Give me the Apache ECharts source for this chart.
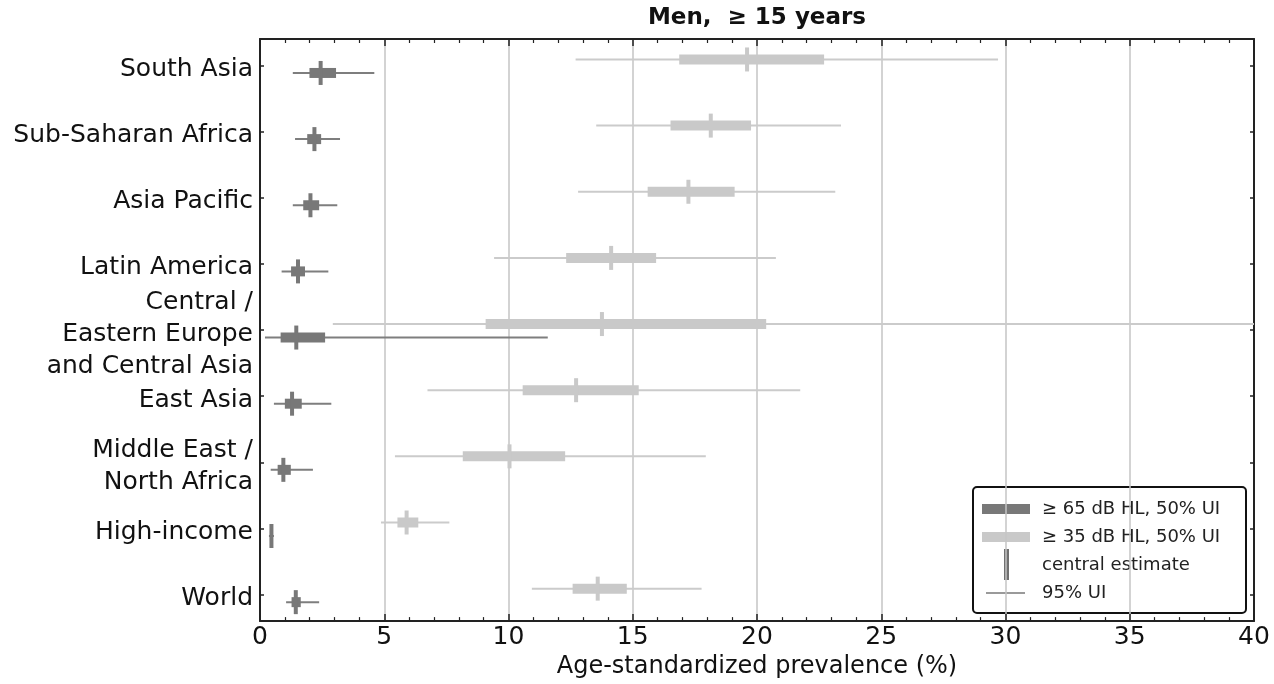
<!DOCTYPE html>
<html>
<head>
<meta charset="utf-8">
<script src="https://cdn.jsdelivr.net/npm/echarts@6/dist/echarts.min.js"></script>
<style>
html,body{margin:0;padding:0;background:#fff;}
#chart{width:1274px;height:684px;}
</style>
</head>
<body>
<div id="chart"></div>
<script>
const categories = ['South Asia','Sub-Saharan Africa','Asia Pacific','Latin America','Central /\nEastern Europe\nand Central Asia','East Asia','Middle East /\nNorth Africa','High-income','World'];
const xTicks = [0,5,10,15,20,25,30,35,40];

// ≥65 dB HL (dark)
const darkLo95 = [1.32, 1.41, 1.32, 0.87, 0.20, 0.56, 0.43, 0.36, 1.05];
const darkHi95 = [4.60, 3.22, 3.11, 2.75, 11.58, 2.87, 2.13, 0.56, 2.38];
const darkLo50 = [1.99, 1.90, 1.74, 1.25, 0.83, 1.00, 0.71, 0.40, 1.27];
const darkHi50 = [3.06, 2.46, 2.38, 1.81, 2.62, 1.68, 1.24, 0.52, 1.64];
const darkMid  = [2.44, 2.19, 2.03, 1.53, 1.46, 1.29, 0.94, 0.46, 1.44];

// ≥35 dB HL (light)
const lightLo95 = [12.70, 13.53, 12.80, 9.42, 2.93, 6.74, 5.43, 4.87, 10.94];
const lightHi95 = [29.70, 23.38, 23.15, 20.76, 40.00, 21.74, 17.94, 7.62, 17.77];
const lightLo50 = [16.87, 16.52, 15.60, 12.32, 9.08, 10.57, 8.16, 5.53, 12.58];
const lightHi50 = [22.70, 19.76, 19.10, 15.94, 20.37, 15.24, 12.28, 6.37, 14.76];
const lightMid  = [19.60, 18.14, 17.24, 14.13, 13.76, 12.72, 10.04, 5.90, 13.59];

const DARK = '#787878', DARK_LINE = '#7e7e7e';
const LIGHT = '#c9c9c9', LIGHT_LINE = '#cbcbcb';
const FONT = 'DejaVu Sans';

function build(lo95, hi95, lo50, hi50, mid) {
  return categories.map((c, i) => [i, lo95[i], hi95[i], lo50[i], hi50[i], mid[i]]);
}

function makeRender(fill, lineColor, dy, midW) {
  return function (params, api) {
    const y = api.value(0);
    const a = api.coord([api.value(1), y]);
    const b = api.coord([api.value(2), y]);
    const c = api.coord([api.value(3), y]);
    const d = api.coord([api.value(4), y]);
    const m = api.coord([api.value(5), y]);
    const yy = a[1] + dy;
    return {
      type: 'group',
      children: [
        {type: 'line', shape: {x1: a[0], y1: yy, x2: b[0], y2: yy}, style: {stroke: lineColor, lineWidth: 2}},
        {type: 'rect', shape: {x: c[0], y: yy - 5, width: d[0] - c[0], height: 10}, style: {fill: fill}},
        {type: 'rect', shape: {x: m[0] - midW / 2, y: yy - 12, width: midW, height: 24}, style: {fill: fill}}
      ]
    };
  };
}

const chart = echarts.init(document.getElementById('chart'), null, {renderer: 'canvas'});

const catIdx = categories.map((c, i) => i);
const yCommon = {
  type: 'value', inverse: true, min: -0.4, max: 8.4,
  axisLine: {show: true, onZero: false, lineStyle: {color: '#222', width: 2}},
  axisTick: {show: true, inside: true, length: 4, customValues: catIdx, lineStyle: {color: '#222', width: 1.5}},
  axisLabel: {show: false},
  splitLine: {show: false}
};
const xCommon = {
  type: 'value', min: 0, max: 40, interval: 5,
  axisLine: {show: true, onZero: false, lineStyle: {color: '#222', width: 2}},
  axisTick: {show: true, inside: true, length: 7, lineStyle: {color: '#222', width: 1.5}},
  minorTick: {show: true, splitNumber: 5, length: 4, lineStyle: {color: '#222', width: 1.2}}
};

const option = {
  animation: false,
  backgroundColor: '#ffffff',
  grid: {left: 260, right: 20, top: 39, bottom: 62, containLabel: false},
  xAxis: [
    Object.assign({}, xCommon, {
      position: 'bottom',
      axisLabel: {show: true, margin: 4, fontFamily: FONT, fontSize: 25, color: '#111',
        customValues: xTicks, formatter: v => String(v)},
      splitLine: {show: true, lineStyle: {color: '#c4c4c4', width: 1.5}},
      name: 'Age-standardized prevalence (%)', nameLocation: 'middle', nameGap: 31,
      nameTextStyle: {fontFamily: FONT, fontSize: 24, color: '#111'}
    }),
    Object.assign({}, xCommon, {
      position: 'top',
      axisLabel: {show: false},
      splitLine: {show: false}
    })
  ],
  yAxis: [
    Object.assign({}, yCommon, {position: 'left'}),
    Object.assign({}, yCommon, {position: 'right'}),
    {
      // label-only axis, shifted slightly down to match the reference's label baseline
      type: 'value', inverse: true, min: -0.46, max: 8.34, position: 'left',
      axisLine: {show: false}, axisTick: {show: false}, splitLine: {show: false},
      axisLabel: {show: true, customValues: catIdx, margin: 7,
        fontFamily: FONT, fontSize: 25, color: '#111', lineHeight: 32, align: 'right',
        formatter: v => categories[Math.round(v)] || ''}
    }
  ],
  series: [
    {
      type: 'custom', name: '≥ 35 dB HL, 50% UI', xAxisIndex: 0, yAxisIndex: 0,
      renderItem: makeRender(LIGHT, LIGHT_LINE, -6, 4),
      encode: {x: [1, 2, 3, 4, 5], y: 0},
      data: build(lightLo95, lightHi95, lightLo50, lightHi50, lightMid), z: 2
    },
    {
      type: 'custom', name: '≥ 65 dB HL, 50% UI', xAxisIndex: 0, yAxisIndex: 0,
      renderItem: makeRender(DARK, DARK_LINE, 7.5, 4),
      encode: {x: [1, 2, 3, 4, 5], y: 0},
      data: build(darkLo95, darkHi95, darkLo50, darkHi50, darkMid), z: 3
    }
  ],
  graphic: [
    {type: 'text', x: 757, y: 18, z: 10,
      style: {text: 'Men,  ≥ 15 years', fontFamily: FONT, fontSize: 23, fontWeight: 'bold', fill: '#111', align: 'center', verticalAlign: 'middle'}},
    {type: 'group', x: 973, y: 487, z: 20, children: [
      {type: 'rect', shape: {x: 0, y: 0, width: 273, height: 126, r: 4}, style: {fill: '#fff', stroke: '#111', lineWidth: 2}},
      {type: 'rect', shape: {x: 9, y: 17, width: 48, height: 10}, style: {fill: DARK}},
      {type: 'text', style: {text: '≥ 65 dB HL, 50% UI', x: 69, y: 22, fontFamily: FONT, fontSize: 18, fill: '#222', verticalAlign: 'middle'}},
      {type: 'rect', shape: {x: 9, y: 45, width: 48, height: 10}, style: {fill: LIGHT}},
      {type: 'text', style: {text: '≥ 35 dB HL, 50% UI', x: 69, y: 50, fontFamily: FONT, fontSize: 18, fill: '#222', verticalAlign: 'middle'}},
      {type: 'rect', shape: {x: 31, y: 62, width: 5, height: 31}, style: {fill: '#707070'}},
      {type: 'text', style: {text: 'central estimate', x: 69, y: 78, fontFamily: FONT, fontSize: 18, fill: '#222', verticalAlign: 'middle'}},
      {type: 'line', shape: {x1: 13, y1: 106, x2: 52, y2: 106}, style: {stroke: DARK, lineWidth: 1.5}},
      {type: 'text', style: {text: '95% UI', x: 69, y: 106, fontFamily: FONT, fontSize: 18, fill: '#222', verticalAlign: 'middle'}}
    ]}
  ]
};

chart.setOption(option);
</script>
</body>
</html>
